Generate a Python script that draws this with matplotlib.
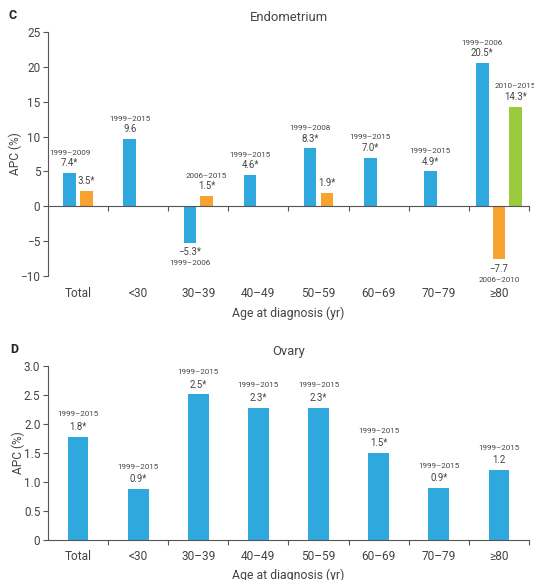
import matplotlib
matplotlib.use("Agg")
import matplotlib.pyplot as plt
from matplotlib.ticker import FuncFormatter

plt.rcParams["font.family"] = ["Roboto", "DejaVu Sans"]

BLUE = "#2fa8de"
ORANGE = "#f8a232"
GREEN = "#9bcb3c"
TEXT = "#444444"
AXIS = "#555555"

categories = ["Total", "<30", "30\u201339", "40\u201349", "50\u201359", "60\u201369", "70\u201379", "\u226580"]

# Endometrium: up to three joinpoint segments per age group
endo_seg1 = [4.8, 9.7, -5.2, 4.5, 8.3, 7.0, 5.0, 20.6]
endo_seg1_apc = ["7.4*", "9.6", "\u22125.3*", "4.6*", "8.3*", "7.0*", "4.9*", "20.5*"]
endo_seg1_period = ["1999\u20132009", "1999\u20132015", "1999\u20132006", "1999\u20132015",
                    "1999\u20132008", "1999\u20132015", "1999\u20132015", "1999\u20132006"]
endo_seg2 = [2.2, None, 1.5, None, 1.95, None, None, -7.6]
endo_seg2_apc = ["3.5*", "", "1.5*", "", "1.9*", "", "", "\u22127.7"]
endo_seg2_period = ["", "", "2006\u20132015", "", "", "", "", "2006\u20132010"]
endo_seg3 = [None, None, None, None, None, None, None, 14.3]
endo_seg3_apc = ["", "", "", "", "", "", "", "14.3*"]
endo_seg3_period = ["", "", "", "", "", "", "", "2010\u20132015"]

# Ovary: single segment per age group
ovary_apc = [1.78, 0.88, 2.51, 2.28, 2.28, 1.5, 0.89, 1.2]
ovary_apc_label = ["1.8*", "0.9*", "2.5*", "2.3*", "2.3*", "1.5*", "0.9*", "1.2"]
ovary_period = ["1999\u20132015"] * 8


def label_bar(ax, x, value, apc, period, big_gap=False):
    if value is None:
        return
    d1, d2 = (7.0, 16.0) if big_gap else (7.0, 14.5)
    sign = 1 if value >= 0 else -1
    ax.annotate(apc, (x, value), xytext=(0, sign * d1), textcoords="offset points",
                ha="center", va="center", fontsize=6.9, color=TEXT)
    if period:
        ax.annotate(period, (x, value), xytext=(0, sign * (d2 + (0.5 if sign < 0 else 0))),
                    textcoords="offset points", ha="center", va="center",
                    fontsize=5.8, color=TEXT)


def style_axes(ax, ymin, ymax, yticks, title, label_y, xlabel_y):
    ax.set_xlim(-0.5, len(categories) - 0.5)
    ax.set_ylim(ymin, ymax)
    ax.set_yticks(yticks)
    for side in ("top", "right"):
        ax.spines[side].set_visible(False)
    ax.spines["bottom"].set_position(("data", 0))
    for side in ("left", "bottom"):
        ax.spines[side].set_color(AXIS)
        ax.spines[side].set_linewidth(0.8)
    ax.set_xticks([i + 0.5 for i in range(len(categories))])
    ax.tick_params(axis="x", length=3.5, width=0.8, color=AXIS, labelbottom=False)
    ax.tick_params(axis="y", length=3.5, width=0.8, color=AXIS, labelsize=8.5, labelcolor=TEXT, pad=2)
    tr = ax.get_xaxis_transform()
    for i, cat in enumerate(categories):
        ax.text(i, label_y, cat, transform=tr, ha="center", va="center", fontsize=8.6, color=TEXT)
    ax.text(0.5, xlabel_y, "Age at diagnosis (yr)", transform=ax.transAxes,
            ha="center", va="center", fontsize=8.8, color=TEXT)
    ax.set_title(title, fontsize=9.4, color=TEXT, pad=8)
    ax.set_ylabel("APC (%)", fontsize=8.6, color=TEXT, labelpad=-1)


fig = plt.figure(figsize=(5.34, 5.80), dpi=100)

# Panel C
ax_c = fig.add_axes([0.0899, 0.524, 0.9007, 0.4208])
width = 0.21
for i in range(len(categories)):
    n = sum(v is not None for v in (endo_seg1[i], endo_seg2[i], endo_seg3[i]))
    offsets = [-0.275, 0.0, 0.275] if n == 3 else [-0.14, 0.14, 0.42]
    for k, (vals, apcs, periods, color) in enumerate([
        (endo_seg1, endo_seg1_apc, endo_seg1_period, BLUE),
        (endo_seg2, endo_seg2_apc, endo_seg2_period, ORANGE),
        (endo_seg3, endo_seg3_apc, endo_seg3_period, GREEN),
    ]):
        v = vals[i]
        if v is None:
            continue
        x = i + offsets[k]
        ax_c.bar(x, v, width=width, color=color, zorder=2)
        label_bar(ax_c, x, v, apcs[i], periods[i])
style_axes(ax_c, -10, 25, [-10, -5, 0, 5, 10, 15, 20, 25], "Endometrium", -0.07, -0.152)

# Panel D
ax_d = fig.add_axes([0.0899, 0.0695, 0.9007, 0.2995])
ax_d.bar(range(len(categories)), ovary_apc, width=0.345, color=BLUE, zorder=2)
for i, v in enumerate(ovary_apc):
    label_bar(ax_d, i, v, ovary_apc_label[i], ovary_period[i], big_gap=True)
style_axes(ax_d, 0, 3.0, [0, 0.5, 1.0, 1.5, 2.0, 2.5, 3.0], "Ovary", -0.094, -0.203)
ax_d.yaxis.set_major_formatter(FuncFormatter(lambda v, p: "0" if v == 0 else f"{v:.1f}"))

fig.text(0.015, 0.974, "C", fontsize=9, fontweight="bold", color="#222222", va="center")
fig.text(0.02, 0.398, "D", fontsize=9, fontweight="bold", color="#222222", va="center")

fig.savefig("out.png", dpi=100)
